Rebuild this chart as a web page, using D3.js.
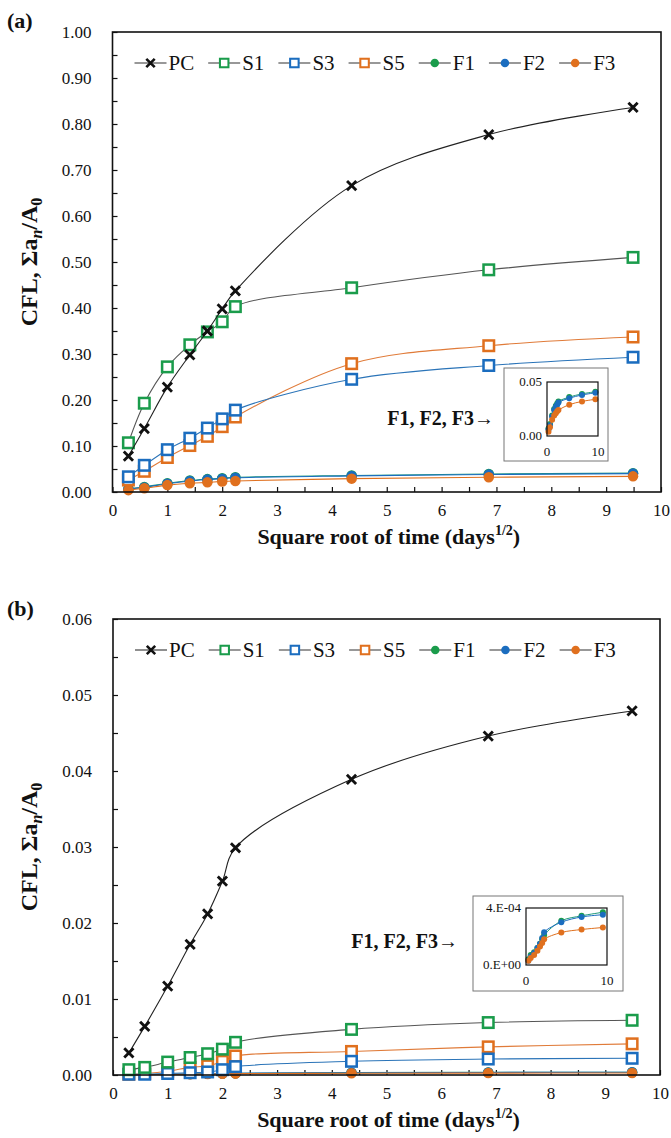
<!DOCTYPE html>
<html lang="en">
<head>
<meta charset="utf-8">
<title>CFL vs square root of time</title>
<script src="https://d3js.org/d3.v7.min.js"></script>
<style>
  body { margin: 0; background: #fff; }
  svg text { font-family: "Liberation Serif", "Times New Roman", Times, serif; fill: #111; }
  .tick text { font-size: 17px; }
  .axis-title { font-size: 22px; font-weight: bold; }
  .y-title { font-size: 24px; font-weight: bold; }
  .panel-tag { font-size: 22px; font-weight: bold; }
  .legend text { font-size: 21px; }
  .note { font-size: 20px; font-weight: bold; }
  .inset text { font-size: 13px; }
</style>
</head>
<body>
<svg id="chart" width="671" height="1138"></svg>
<script>
// x positions: square root of exposure time (days^1/2)
var sqrtDays = [0.29, 0.58, 1.0, 1.41, 1.73, 2.0, 2.24, 4.36, 6.86, 9.49];
var seriesNames = ["PC", "S1", "S3", "S5", "F1", "F2", "F3"];
var markShapes = ["cross", "square", "square", "square", "circle", "circle", "circle"];
var markColors = ["#111111", "#1a9c4b", "#1b6dbf", "#e0701e", "#1a9c4b", "#1b6dbf", "#e0701e"];
var lineColors = ["#222222", "#555555", "#2b74b8", "#e07b39", "#1f9a7a", "#1b6dbf", "#e0701e"];

// panel (a)
var aPC = [0.078, 0.138, 0.228, 0.298, 0.350, 0.398, 0.437, 0.666, 0.777, 0.836];
var aS1 = [0.107, 0.193, 0.272, 0.320, 0.348, 0.370, 0.403, 0.444, 0.483, 0.510];
var aS3 = [0.033, 0.058, 0.092, 0.117, 0.139, 0.159, 0.178, 0.245, 0.275, 0.293];
var aS5 = [0.026, 0.045, 0.075, 0.101, 0.121, 0.142, 0.163, 0.279, 0.318, 0.337];
var aF1 = [0.007, 0.011, 0.019, 0.025, 0.028, 0.030, 0.032, 0.036, 0.039, 0.041];
var aF2 = [0.006, 0.010, 0.018, 0.024, 0.027, 0.029, 0.031, 0.035, 0.038, 0.040];
var aF3 = [0.004, 0.008, 0.015, 0.019, 0.021, 0.023, 0.024, 0.029, 0.032, 0.034];

// panel (b)
var bPC = [0.0029, 0.0064, 0.0117, 0.0172, 0.0212, 0.0255, 0.0299, 0.0389, 0.0446, 0.0479];
var bS1 = [0.0007, 0.0010, 0.0017, 0.0023, 0.0028, 0.0034, 0.0043, 0.0060, 0.0069, 0.0072];
var bS3 = [0.0001, 0.0001, 0.0002, 0.0003, 0.0004, 0.0007, 0.0011, 0.0018, 0.0021, 0.0022];
var bS5 = [0.0001, 0.0002, 0.0005, 0.0010, 0.0012, 0.0018, 0.0025, 0.0031, 0.0037, 0.0041];
var bF1 = [0.00004, 0.00007, 0.00009, 0.00012, 0.00015, 0.00018, 0.00021, 0.00031, 0.000345, 0.00037];
var bF2 = [0.00003, 0.00006, 0.000085, 0.00012, 0.00015, 0.00019, 0.00023, 0.00030, 0.000337, 0.000353];
var bF3 = [0.00003, 0.00005, 0.00007, 0.00010, 0.00013, 0.000155, 0.00018, 0.000228, 0.000249, 0.000263];

var xTicks = d3.range(0, 10.001, 0.5);
var aYTicks = d3.range(0, 1.0001, 0.05);
var bYTicks = d3.range(0, 0.06001, 0.005);

var svg = d3.select("#chart");
var curve = d3.curveCatmullRom.alpha(0.5);

function marker(g, i, size) {
  var s = size;
  if (markShapes[i] == "cross") {
    g.append("path")
      .attr("d", "M" + (-s * 0.42) + "," + (-s * 0.42) + "L" + (s * 0.42) + "," + (s * 0.42) +
                 "M" + (-s * 0.42) + "," + (s * 0.42) + "L" + (s * 0.42) + "," + (-s * 0.42))
      .attr("stroke", markColors[i]).attr("stroke-width", s * 0.26).attr("fill", "none");
  } else if (markShapes[i] == "square") {
    g.append("rect")
      .attr("x", -s / 2).attr("y", -s / 2).attr("width", s).attr("height", s)
      .attr("fill", "#fff").attr("stroke", markColors[i]).attr("stroke-width", s * 0.24);
  } else {
    g.append("circle").attr("r", s / 2).attr("fill", markColors[i]);
  }
}

function drawSeries(g, x, y, vals, i, size, lw) {
  var pts = sqrtDays.map(function(d, k) { return [d, vals[k]]; });
  g.append("path")
    .datum(pts)
    .attr("fill", "none")
    .attr("stroke", lineColors[i])
    .attr("stroke-width", lw)
    .attr("d", d3.line().x(function(d) { return x(d[0]); }).y(function(d) { return y(d[1]); }).curve(curve));
  g.selectAll(null).data(pts).enter().append("g")
    .attr("transform", function(d) { return "translate(" + x(d[0]) + "," + y(d[1]) + ")"; })
    .each(function() { marker(d3.select(this), i, size); });
}

function drawPanel(p) {
  var g = svg.append("g");
  var x = d3.scaleLinear().domain([0, 10]).range([p.left, p.right]);
  var y = d3.scaleLinear().domain([0, p.yMax]).range([p.bottom, p.top]);

  g.append("text").attr("class", "panel-tag").attr("x", 7).attr("y", p.tagY).text(p.tag);

  var xAxis = d3.axisBottom(x).tickValues(xTicks).tickSize(-5).tickPadding(12)
    .tickFormat(function(d) { return d % 1 == 0 ? d : ""; });
  g.append("g").attr("transform", "translate(0," + p.bottom + ")").call(xAxis)
    .call(function(a) { a.select(".domain").remove(); });

  var yAxis = d3.axisLeft(y).tickValues(p.yTicks).tickSize(-5).tickPadding(21)
    .tickFormat(function(d, k) { return k % 2 == 0 ? d3.format(".2f")(d) : ""; });
  g.append("g").attr("transform", "translate(" + p.left + ",0)").call(yAxis)
    .call(function(a) { a.select(".domain").remove(); });
  g.selectAll(".tick line").attr("stroke", "#111").attr("stroke-width", 1.2);

  var plot = g.append("g");
  var order = [4, 5, 6, 3, 2, 1, 0];
  order.forEach(function(i) { drawSeries(plot, x, y, p.data[i], i, i == 0 ? 11 : 10.5, 1.1); });

  g.append("rect")
    .attr("x", p.left).attr("y", p.top)
    .attr("width", p.right - p.left).attr("height", p.bottom - p.top)
    .attr("fill", "none").attr("stroke", "#111").attr("stroke-width", 1.6);

  // y title
  var cy = (p.top + p.bottom) / 2;
  var yt = g.append("text").attr("class", "y-title")
    .attr("transform", "translate(37," + cy + ") rotate(-90)")
    .attr("text-anchor", "middle");
  yt.append("tspan").text("CFL,  \u03A3a");
  yt.append("tspan").attr("font-style", "italic").attr("font-size", "16px").attr("dy", 5).text("n");
  yt.append("tspan").attr("dy", -5).text("/A");
  yt.append("tspan").attr("font-size", "16px").attr("dy", 5).text("0");

  // x title
  var xt = g.append("text").attr("class", "axis-title")
    .attr("x", (p.left + p.right) / 2 + 2).attr("y", p.bottom + 52)
    .attr("text-anchor", "middle");
  xt.append("tspan").text("Square root of time (days");
  xt.append("tspan").attr("font-size", "14px").attr("dy", -9).text("1/2");
  xt.append("tspan").attr("dy", 9).text(")");

  // legend
  var lg = g.append("g").attr("class", "legend");
  var lx = p.left + 22, ly = p.top + 31;
  seriesNames.forEach(function(name, i) {
    var it = lg.append("g").attr("transform", "translate(" + lx + "," + ly + ")");
    it.append("line").attr("x1", 0).attr("x2", 32).attr("stroke", "#333").attr("stroke-width", 1.1);
    var m = it.append("g").attr("transform", "translate(16,0)");
    marker(m, i, i == 0 ? 10 : 8.5);
    var t = it.append("text").attr("x", 34).attr("y", 7).text(name);
    lx += 34 + t.node().getComputedTextLength() + 14;
  });

  // note and inset
  g.append("text").attr("class", "note").attr("x", p.noteX).attr("y", p.noteY)
    .attr("text-anchor", "end").text("F1, F2, F3\u2192");

  var ins = g.append("g").attr("class", "inset");
  var b = p.inset;
  ins.append("rect").attr("x", b.ox0).attr("y", b.oy0)
    .attr("width", b.ox1 - b.ox0).attr("height", b.oy1 - b.oy0)
    .attr("fill", "#fff").attr("stroke", "#777").attr("stroke-width", 1);
  var ix = d3.scaleLinear().domain([0, 10]).range([b.x0, b.x1]);
  var iy = d3.scaleLinear().domain([0, b.yMax]).range([b.y1, b.y0]);
  [4, 5, 6].forEach(function(i) { drawSeries(ins, ix, iy, p.data[i], i, 6, 1); });
  ins.append("rect").attr("x", b.x0).attr("y", b.y0)
    .attr("width", b.x1 - b.x0).attr("height", b.y1 - b.y0)
    .attr("fill", "none").attr("stroke", "#111").attr("stroke-width", 1.2);
  ins.append("text").attr("x", b.x0 - 5).attr("y", b.y0 + 4).attr("text-anchor", "end").text(b.topLabel);
  ins.append("text").attr("x", b.x0 - 5).attr("y", b.y1 + 4).attr("text-anchor", "end").text(b.botLabel);
  ins.append("text").attr("x", b.x0).attr("y", b.y1 + 20).attr("text-anchor", "middle").text("0");
  ins.append("text").attr("x", b.x1).attr("y", b.y1 + 20).attr("text-anchor", "middle").text("10");
}

drawPanel({
  tag: "(a)", tagY: 28,
  left: 112.5, right: 661, top: 32, bottom: 492, yMax: 1.0, yTicks: aYTicks,
  data: [aPC, aS1, aS3, aS5, aF1, aF2, aF3],
  noteX: 494, noteY: 425,
  inset: { ox0: 504, ox1: 608, oy0: 368, oy1: 461, x0: 547, x1: 598, y0: 382, y1: 436,
           yMax: 0.05, topLabel: "0.05", botLabel: "0.00" }
});

drawPanel({
  tag: "(b)", tagY: 616,
  left: 113, right: 660, top: 619, bottom: 1075, yMax: 0.06, yTicks: bYTicks,
  data: [bPC, bS1, bS3, bS5, bF1, bF2, bF3],
  noteX: 458, noteY: 948,
  inset: { ox0: 473, ox1: 623, oy0: 896, oy1: 991, x0: 526, x1: 607, y0: 908, y1: 965,
           yMax: 0.0004, topLabel: "4.E-04", botLabel: "0.E+00" }
});
</script>
</body>
</html>
